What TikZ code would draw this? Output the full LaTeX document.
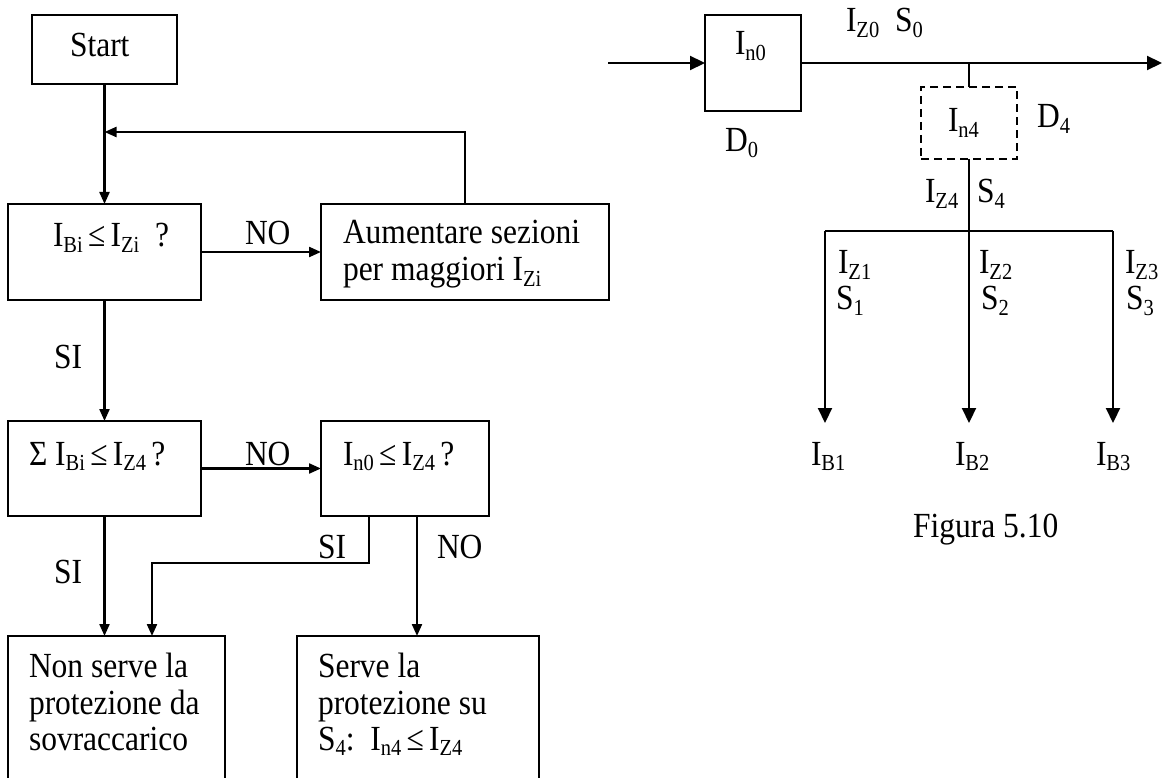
\documentclass[tikz,border=0pt]{standalone}
\usepackage{graphicx}
\usepackage{fontspec}
\setmainfont{Liberation Serif}
\usetikzlibrary{arrows.meta}
\newcommand{\sbs}[1]{\raisebox{-4.5pt}{\fontsize{20.5pt}{20.5pt}\selectfont #1}}
\newcommand{\vs}[1]{\scalebox{1}[1.12]{#1}}
\begin{document}
\begin{tikzpicture}[x=1pt,y=-1pt,
  every node/.style={font=\fontsize{31.5pt}{37.5pt}\selectfont, inner sep=0pt, outer sep=0pt},
  box/.style={draw, line width=2.2pt, rectangle},
  dbox/.style={draw, line width=2.2pt, rectangle, dash pattern=on 8pt off 5pt},
  txt/.style={anchor=base west},
  conn/.style={line width=2.2pt},
  arr/.style={conn, -{Triangle[length=12pt,width=10pt]}},
  bigarr/.style={conn, -{Triangle[length=15pt,width=14pt]}}]
\useasboundingbox (0,0) rectangle (1163,778);
\clip (0,0) rectangle (1163,778);

% ---------- flowchart ----------
\node[box, minimum width=145pt, minimum height=69pt] (start) at (104.5,49.5) {};
\node[txt] (tstart) at (70,57) {\vs{Start}};

\node[box, minimum width=193pt, minimum height=96pt] (ibi) at (104.5,252) {};
\node[txt] (tibi) at (53,247) {\vs{I\sbs{Bi}\,≤\,I\sbs{Zi}\ \ ?}};

\node[box, minimum width=288pt, minimum height=96pt] (aum) at (465,252) {};
\node[txt] (taum1) at (343,244) {\vs{Aumentare sezioni}};
\node[txt] (taum2) at (343,281) {\vs{per maggiori I\sbs{Zi}}};

\node[box, minimum width=193pt, minimum height=95pt] (sum) at (104.5,468.5) {};
\node[txt] (tsum) at (29,465) {\vs{Σ I\sbs{Bi}\,≤\,I\sbs{Z4}\,?}};

\node[box, minimum width=168pt, minimum height=95pt] (in0q) at (405,468.5) {};
\node[txt] (tin0q) at (343,465) {\vs{I\sbs{n0}\,≤\,I\sbs{Z4}\,?}};

\node[box, minimum width=217pt, minimum height=164pt] (non) at (116.5,718) {};
\node[txt] (tnon1) at (29,677) {\vs{Non serve la}};
\node[txt] (tnon2) at (29,714) {\vs{protezione da}};
\node[txt] (tnon3) at (29,750) {\vs{sovraccarico}};

\node[box, minimum width=242pt, minimum height=164pt] (serve) at (418,718) {};
\node[txt] (tserve1) at (318,677) {\vs{Serve la}};
\node[txt] (tserve2) at (318,714) {\vs{protezione su}};
\node[txt] (tserve3) at (318,750) {\vs{S\sbs{4}:\ \ I\sbs{n4}\,≤\,I\sbs{Z4}}};

% connectors
\coordinate (join) at (104.5,132);
\draw[arr] (start.south) -- (ibi.north);
\draw[arr] (aum.north) |- (join);
\draw[arr] (ibi.east) -- (aum.west);
\node[txt] (no1) at (245,245) {\vs{NO}};
\draw[arr] (ibi.south) -- (sum.north);
\node[txt] (si1) at (54,368) {\vs{SI}};
\draw[arr] (sum.east) -- (in0q.west);
\node[txt] (no2) at (245,465) {\vs{NO}};
\draw[arr] (sum.south) -- (sum.south |- non.north);
\node[txt] (si2) at (54,583) {\vs{SI}};
\draw[arr] ([xshift=-36pt]in0q.south) -- ++(0,47) -| ([xshift=35.5pt]non.north);
\node[txt] (si3) at (318,558) {\vs{SI}};
\draw[arr] ([xshift=12pt]in0q.south) -- ([xshift=12pt]in0q.south |- serve.north);
\node[txt] (no3) at (437,558) {\vs{NO}};

% ---------- circuit ----------
\node[box, minimum width=96pt, minimum height=96pt] (d0) at (753,63) {};
\node[txt] (tin0) at (735,55) {\vs{I\sbs{n0}}};
\node[txt] (td0) at (725,152) {\vs{D\sbs{0}}};
\coordinate (inp) at (608,63);
\coordinate (out) at (1162,63);
\draw[bigarr] (inp) -- (d0.west);
\draw[bigarr] (d0.east) -- (out);
\node[txt] (tiz0) at (846,32) {\vs{I\sbs{Z0}\ \ S\sbs{0}}};

\node[dbox, minimum width=96pt, minimum height=72pt] (d4) at (969,123) {};
\node[txt] (tin4) at (948,132) {\vs{I\sbs{n4}}};
\node[txt] (td4) at (1037,128) {\vs{D\sbs{4}}};
\coordinate (tap) at (969,63);
\coordinate (hub) at (969,231);
\draw[conn] (tap) -- (d4.north);
\draw[conn] (d4.south) -- (hub);
\node[txt] (tiz4) at (925,203) {\vs{I\sbs{Z4}}};
\node[txt] (ts4) at (977,203) {\vs{S\sbs{4}}};

\coordinate (b1) at (825,231);
\coordinate (b3) at (1113,231);
\coordinate (e1) at (825,423);
\coordinate (e2) at (969,423);
\coordinate (e3) at (1113,423);
\draw[conn] (b1) -- (b3);
\draw[bigarr] (b1) -- (e1);
\draw[bigarr] (hub) -- (e2);
\draw[bigarr] (b3) -- (e3);

\node[txt] (tiz1) at (838,274) {\vs{I\sbs{Z1}}};
\node[txt] (ts1) at (836,310) {\vs{S\sbs{1}}};
\node[txt] (tiz2) at (979,274) {\vs{I\sbs{Z2}}};
\node[txt] (ts2) at (981,310) {\vs{S\sbs{2}}};
\node[txt] (tiz3) at (1125,274) {\vs{I\sbs{Z3}}};
\node[txt] (ts3) at (1126,310) {\vs{S\sbs{3}}};

\node[txt] (ib1) at (811,465) {\vs{I\sbs{B1}}};
\node[txt] (ib2) at (955,465) {\vs{I\sbs{B2}}};
\node[txt] (ib3) at (1096,465) {\vs{I\sbs{B3}}};

\node[txt] (fig) at (913,537) {\vs{Figura 5.10}};
\end{tikzpicture}
\end{document}
